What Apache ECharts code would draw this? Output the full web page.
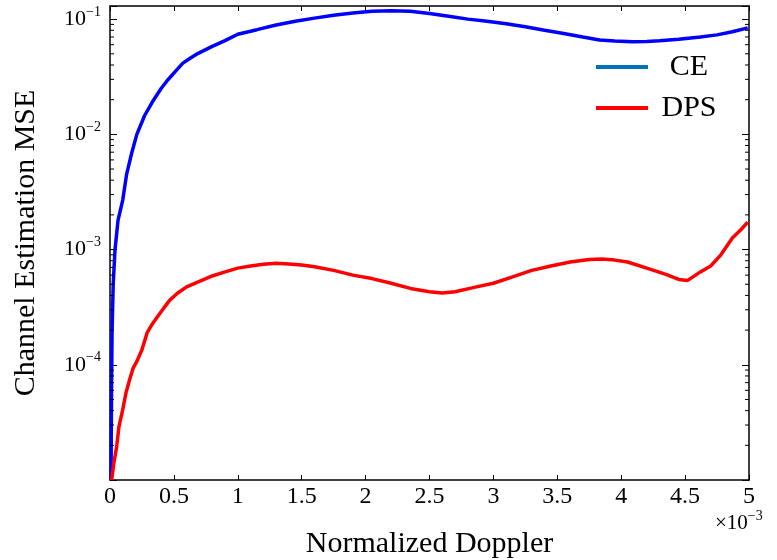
<!DOCTYPE html>
<html><head><meta charset="utf-8">
<script src="https://cdn.jsdelivr.net/npm/echarts@6/dist/echarts.min.js"></script>
<style>html,body{margin:0;padding:0;background:#fff}#c{width:777px;height:560px}</style>
</head><body><div id="c"></div>
<script>
// Normalized Doppler (x 1e-3)
const ceX = [0.008,0.012,0.016,0.025,0.039,0.063,0.10,0.13,0.17,0.21,0.27,0.34,0.40,0.45,0.51,0.57,0.63,0.69,0.80,0.90,1.00,1.15,1.30,1.45,1.60,1.75,1.90,2.05,2.20,2.35,2.50,2.65,2.80,2.95,3.10,3.25,3.40,3.55,3.70,3.83,3.95,4.09,4.20,4.30,4.45,4.62,4.75,4.87,4.99];
const ceY = [1.0e-5,6e-5,1.9e-4,5e-4,9.9e-4,1.8e-3,2.7e-3,4.5e-3,6.9e-3,1.0e-2,1.45e-2,1.98e-2,2.5e-2,2.95e-2,3.5e-2,4.15e-2,4.6e-2,5.05e-2,5.8e-2,6.5e-2,7.4e-2,8.1e-2,8.9e-2,9.6e-2,0.102,0.108,0.113,0.117,0.118,0.117,0.112,0.106,0.100,0.096,0.091,0.086,0.080,0.075,0.070,0.066,0.0645,0.0635,0.0640,0.0650,0.0670,0.0700,0.073,0.0776,0.084];
const dpsX = [0.013,0.03,0.052,0.07,0.10,0.125,0.15,0.18,0.21,0.25,0.29,0.33,0.37,0.42,0.47,0.53,0.60,0.70,0.80,0.90,1.00,1.10,1.20,1.30,1.40,1.50,1.60,1.75,1.90,2.05,2.20,2.35,2.50,2.60,2.70,2.85,3.00,3.15,3.30,3.45,3.60,3.75,3.85,3.95,4.05,4.20,4.35,4.45,4.52,4.62,4.70,4.78,4.87,4.94,4.99];
const dpsY = [1.0e-5,1.4e-5,1.94e-5,2.9e-5,4.1e-5,5.7e-5,7.2e-5,9.3e-5,1.07e-4,1.35e-4,1.89e-4,2.25e-4,2.6e-4,3.1e-4,3.66e-4,4.2e-4,4.74e-4,5.3e-4,5.9e-4,6.4e-4,6.9e-4,7.2e-4,7.45e-4,7.6e-4,7.5e-4,7.35e-4,7.1e-4,6.6e-4,6.0e-4,5.6e-4,5.1e-4,4.6e-4,4.3e-4,4.2e-4,4.3e-4,4.7e-4,5.1e-4,5.8e-4,6.6e-4,7.2e-4,7.8e-4,8.2e-4,8.3e-4,8.1e-4,7.8e-4,6.9e-4,6.1e-4,5.5e-4,5.4e-4,6.4e-4,7.2e-4,9.0e-4,1.26e-3,1.5e-3,1.73e-3];
const xTicks = [0,0.5,1,1.5,2,2.5,3,3.5,4,4.5,5];
const yMinorTicks = [2e-5,3e-5,4e-5,5e-5,6e-5,7e-5,8e-5,9e-5,2e-4,3e-4,4e-4,5e-4,6e-4,7e-4,8e-4,9e-4,2e-3,3e-3,4e-3,5e-3,6e-3,7e-3,8e-3,9e-3,2e-2,3e-2,4e-2,5e-2,6e-2,7e-2,8e-2,9e-2];
const seriesNames = ['CE','DPS'];
const xName = 'Normalized Doppler';
const yName = 'Channel Estimation MSE';

const FONT = 'Liberation Serif';
const XMIN = 0, XMAX = 5, YMIN = 1e-5, YMAX = 0.13;
const zip = (a,b) => a.map((v,i)=>[v,b[i]]);

const chart = echarts.init(document.getElementById('c'), null, {renderer:'canvas'});
const yLabelFmt = v => {
  const l = Math.log10(v), e = Math.round(l);
  if (Math.abs(l-e) > 0.01 || e <= -5) return '';
  return '{b|10}{s|−' + (-e) + '}';
};
const yRich = {
  b:{fontFamily:FONT,fontSize:22,color:'#000'},
  s:{fontFamily:FONT,fontSize:14,color:'#000',padding:[0,0,14,0]}
};
chart.setOption({
  animation:false,
  backgroundColor:'#fff',
  grid:{left:110,right:28,top:6,bottom:80,show:false,containLabel:false,outerBoundsMode:'none'},
  legend:{
    orient:'vertical',left:591,top:47,itemWidth:52,itemHeight:4,itemGap:11,icon:'rect',
    data:[{name:seriesNames[0],itemStyle:{color:'#0072BD'}},{name:seriesNames[1],itemStyle:{color:'#ff0000'}}],
    formatter:n=>'{c|'+n+'}',
    textStyle:{fontFamily:FONT,fontSize:30,color:'#000',rich:{c:{fontFamily:FONT,fontSize:30,width:72,align:'center'}}}
  },
  xAxis:[{
    type:'value',min:XMIN,max:XMAX,interval:0.5,position:'bottom',
    name:xName,nameLocation:'middle',nameGap:49,
    nameTextStyle:{fontFamily:FONT,fontSize:30,color:'#000'},
    axisLine:{show:true,onZero:false,lineStyle:{color:'#000',width:1.5}},
    axisTick:{show:true,inside:true,length:5,lineStyle:{color:'#000',width:1}},
    axisLabel:{fontFamily:FONT,fontSize:24,color:'#000',margin:5,formatter:v=>String(v)},
    splitLine:{show:false}
  },{
    type:'value',min:XMIN,max:XMAX,interval:0.5,position:'top',
    axisLine:{show:true,onZero:false,lineStyle:{color:'#000',width:1.5}},
    axisTick:{show:true,inside:true,length:5,lineStyle:{color:'#000',width:1}},
    axisLabel:{show:false},splitLine:{show:false}
  }],
  yAxis:[{
    type:'log',logBase:10,min:YMIN,max:YMAX,position:'left',
    name:yName,nameLocation:'middle',nameGap:69,
    nameTextStyle:{fontFamily:FONT,fontSize:30,color:'#000'},
    axisLine:{show:true,onZero:false,lineStyle:{color:'#000',width:1.5}},
    axisTick:{show:true,inside:true,length:7,lineStyle:{color:'#000',width:1}},
    axisLabel:{margin:9,formatter:yLabelFmt,rich:yRich},
    splitLine:{show:false}
  },{
    type:'log',logBase:10,min:YMIN,max:YMAX,position:'right',
    axisLine:{show:true,onZero:false,lineStyle:{color:'#000',width:1.5}},
    axisTick:{show:true,inside:true,length:7,lineStyle:{color:'#000',width:1}},
    axisLabel:{show:false},splitLine:{show:false}
  }],
  graphic:[{
    type:'text',left:715,top:509,
    style:{text:'{a|×10}{s|−3}',rich:{a:{fontFamily:FONT,fontSize:21,color:'#000'},s:{fontFamily:FONT,fontSize:14,color:'#000',padding:[0,0,14,0]}}}
  }],
  series:[{
    name:seriesNames[0],type:'line',data:zip(ceX,ceY),showSymbol:false,symbol:'none',
    lineStyle:{color:'#0000ff',width:3.5},itemStyle:{color:'#0000ff'},z:3
  },{
    name:seriesNames[1],type:'line',data:zip(dpsX,dpsY),showSymbol:false,symbol:'none',
    lineStyle:{color:'#ff0000',width:3.5},itemStyle:{color:'#ff0000'},z:3
  },{
    type:'custom',silent:true,clip:false,z:5,
    data:yMinorTicks.map(v=>[0,v]),
    encode:{x:0,y:1},
    renderItem:(params,api)=>{
      const v = api.value(1);
      const pL = api.coord([XMIN,v]), pR = api.coord([XMAX,v]);
      return {type:'group',children:[
        {type:'line',shape:{x1:pL[0],y1:pL[1],x2:pL[0]+4,y2:pL[1]},style:{stroke:'#000',lineWidth:1}},
        {type:'line',shape:{x1:pR[0]-4,y1:pR[1],x2:pR[0],y2:pR[1]},style:{stroke:'#000',lineWidth:1}}
      ]};
    }
  }]
});
</script></body></html>
